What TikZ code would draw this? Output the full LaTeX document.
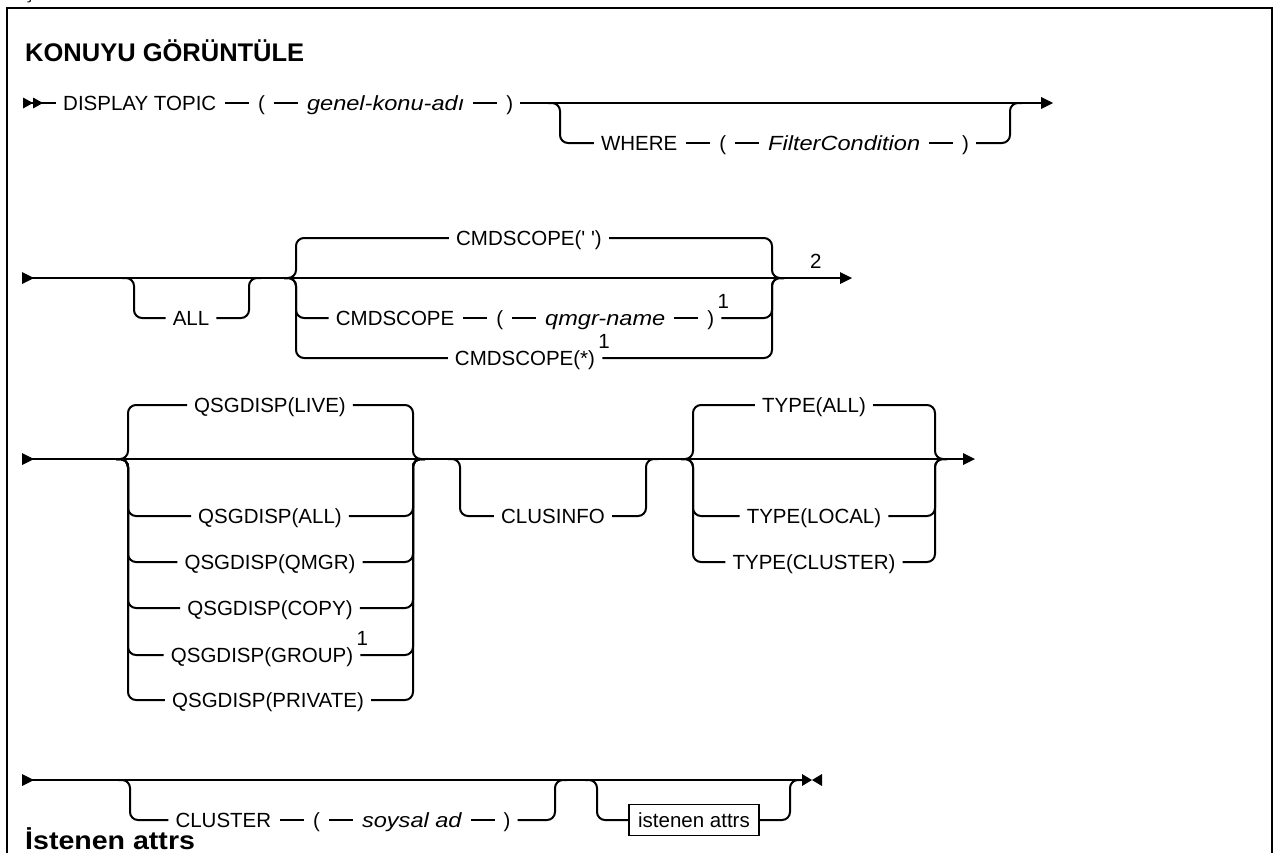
\documentclass[tikz,border=0pt]{standalone}
\usepackage{fontspec}
\setmainfont{Liberation Sans}[Ligatures=TeXOff]
\newfontfamily\itfont{Liberation Sans}[FakeStretch=1.15, Ligatures=TeXOff]
\newfontfamily\hdfont{Liberation Sans}[FakeStretch=1.12, Ligatures=TeXOff]
\usetikzlibrary{calc}
\newcommand\rfs{\fontsize{20.5}{24}\selectfont}
\newcommand\hfs{\fontsize{25.5}{30}\selectfont\bfseries}
\newcommand\itw[1]{{\itfont\itshape #1}}
\newcommand\dsh{\rule[6.6pt]{24pt}{1.8pt}}
\newcommand\gp{\hspace{9pt}}
\begin{document}
\begin{tikzpicture}[x=1pt,y=-1pt,
  rail/.style={line width=2pt, rounded corners=8pt},
  lbl/.style={font=\rfs, inner xsep=7pt, inner ysep=0pt, text height=14.7pt, text depth=0pt},
  boxlbl/.style={lbl, draw, line width=1.5pt, inner xsep=9pt, inner ysep=8pt},
  fn/.style={font=\rfs, inner sep=0pt, anchor=base west},
  head/.style={font=\hfs, inner sep=0pt, anchor=base west}]
\useasboundingbox (0,0) rectangle (1276,852);
% frame
\draw[line width=2.5pt] (7,870) -- (7,8) -- (1272,8) -- (1272,870);
\node[fn] (frag) at (24,-2) {ş};
\node[head] (title) at (25,61) {KONUYU GÖRÜNTÜLE};
% ---------------- row 1
\coordinate (a1) at (30,103);
\coordinate (a1e) at (1045,103);
\node[lbl,anchor=west] (t1) at (56,103) {DISPLAY TOPIC\gp\dsh\gp(\gp\dsh\gp\itw{genel-konu-adı}\gp\dsh\gp)};
\draw[rail] (a1) -- (t1.west);
\draw[rail] (t1.east) -- (a1e);
\fill (23,97.5) -- (33,103) -- (23,108.5) -- cycle;
\fill (33,97.5) -- (43,103) -- (33,108.5) -- cycle;
\node[lbl] (t1w) at (785,143) {WHERE\gp\dsh\gp(\gp\dsh\gp\itw{FilterCondition}\gp\dsh\gp)};
\draw[rail] (548,103) -- (560,103) -- (560,143) -- (t1w.west);
\draw[rail] (t1w.east) -- (1010,143) -- (1010,103) -- (1022,103);
\fill (1041,97) -- (1053,103) -- (1041,109) -- cycle;
% ---------------- row 2
\coordinate (a2) at (28,278);
\coordinate (a2e) at (842,278);
\fill (22,272) -- (34,278) -- (22,284) -- cycle;
\draw[rail] (a2) -- (a2e);
\fill (840,272) -- (852,278) -- (840,284) -- cycle;
\node[lbl] (all) at (191,318) {ALL};
\draw[rail] (122,278) -- (134,278) -- (134,318) -- (all.west);
\draw[rail] (all.east) -- (249,318) -- (249,278) -- (261,278);
\node[lbl] (cs0) at (529,238) {CMDSCOPE(' ')};
\node[lbl] (cs1) at (525,318) {CMDSCOPE\gp\dsh\gp(\gp\dsh\gp\itw{qmgr-name}\gp\dsh\gp)};
\node[lbl] (cs2) at (525,358) {CMDSCOPE(*)};
\draw[rail] (284,278) -- (296,278) -- (296,238) -- (cs0.west);
\draw[rail] (284,278) -- (296,278) -- (296,318) -- (cs1.west);
\draw[rail] (284,278) -- (296,278) -- (296,358) -- (cs2.west);
\draw[rail] (cs0.east) -- (772,238) -- (772,278) -- (784,278);
\draw[rail] (cs1.east) -- (772,318) -- (772,278) -- (784,278);
\draw[rail] (cs2.east) -- (772,358) -- (772,278) -- (784,278);
\node[fn] (f1) at ($(cs1.east)+(-4,-10)$) {1};
\node[fn] (f2) at ($(cs2.east)+(-4,-10)$) {1};
\node[fn] (f3) at (810,268) {2};
% ---------------- row 3
\coordinate (a3) at (28,459);
\coordinate (a3e) at (965,459);
\fill (22,453) -- (34,459) -- (22,465) -- cycle;
\draw[rail] (a3) -- (a3e);
\fill (963,453) -- (975,459) -- (963,465) -- cycle;
\node[lbl] (q0) at (270,405) {QSGDISP(LIVE)};
\node[lbl] (q1) at (270,516) {QSGDISP(ALL)};
\node[lbl] (q2) at (270,562) {QSGDISP(QMGR)};
\node[lbl] (q3) at (270,608) {QSGDISP(COPY)};
\node[lbl] (q4) at (262,655) {QSGDISP(GROUP)};
\node[lbl] (q5) at (268,700) {QSGDISP(PRIVATE)};
\foreach \n/\yy in {q0/405,q1/516,q2/562,q3/608,q4/655,q5/700}{
  \draw[rail] (116,459) -- (128,459) -- (128,\yy) -- (\n.west);
  \draw[rail] (\n.east) -- (413,\yy) -- (413,459) -- (425,459);
}
\node[fn] (f4) at ($(q4.east)+(-4,-10)$) {1};
\node[lbl] (ci) at (553,516) {CLUSINFO};
\draw[rail] (448,459) -- (460,459) -- (460,516) -- (ci.west);
\draw[rail] (ci.east) -- (646,516) -- (646,459) -- (658,459);
\node[lbl] (ty0) at (814,405) {TYPE(ALL)};
\node[lbl] (ty1) at (814,516) {TYPE(LOCAL)};
\node[lbl] (ty2) at (814,562) {TYPE(CLUSTER)};
\foreach \n/\yy in {ty0/405,ty1/516,ty2/562}{
  \draw[rail] (681,459) -- (693,459) -- (693,\yy) -- (\n.west);
  \draw[rail] (\n.east) -- (935,\yy) -- (935,459) -- (947,459);
}
% ---------------- row 4
\coordinate (a4) at (28,780);
\coordinate (a4e) at (805,780);
\fill (22,774) -- (34,780) -- (22,786) -- cycle;
\draw[rail] (a4) -- (a4e);
\node[lbl] (cl) at (343,820) {CLUSTER\gp\dsh\gp(\gp\dsh\gp\itw{soysal ad}\gp\dsh\gp)};
\draw[rail] (118,780) -- (130,780) -- (130,820) -- (cl.west);
\draw[rail] (cl.east) -- (555,820) -- (555,780) -- (567,780);
\node[boxlbl] (ia) at (694,820) {istenen attrs};
\draw[rail] (585,780) -- (597,780) -- (597,820) -- (ia.west);
\draw[rail] (ia.east) -- (790,820) -- (790,780) -- (802,780);
\fill (802,774) -- (812,780) -- (802,786) -- cycle;
\fill (822,774) -- (812,780) -- (822,786) -- cycle;
\node[head] (h2) at (25,849) {\hdfont\bfseries İstenen attrs};
\end{tikzpicture}
\end{document}
